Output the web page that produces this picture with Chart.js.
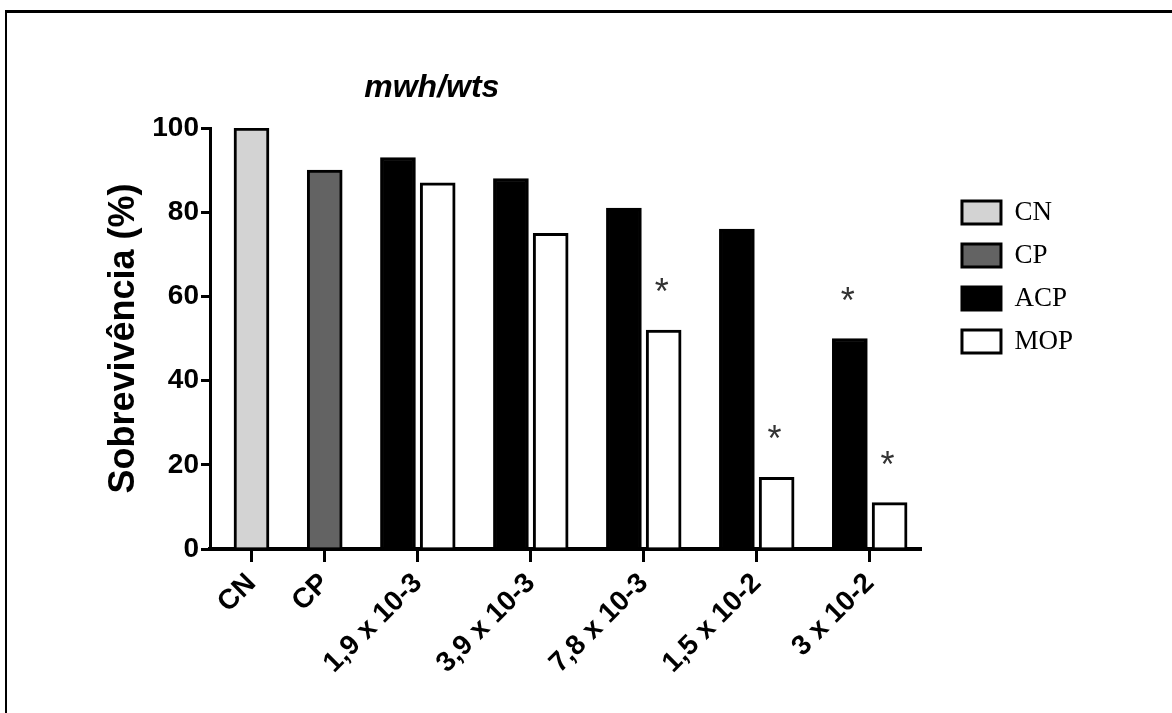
<!DOCTYPE html>
<html lang="pt">
<head>
<meta charset="utf-8">
<title>Sobrevivência – mwh/wts</title>
<script src="https://cdn.jsdelivr.net/npm/chart.js@4.4.1/dist/chart.umd.min.js"></script>
<style>
  html, body { margin: 0; padding: 0; background: #fff; }
  #wrap { position: relative; width: 1172px; height: 713px; overflow: hidden; }
  #wrap canvas { position: absolute; left: 0; top: 0; }
  #frame {
    position: absolute; left: 5px; top: 10px; right: -4px; bottom: -4px;
    border-top: 3px solid #000; border-left: 2px solid #000;
    pointer-events: none;
  }
</style>
</head>
<body>
<div id="wrap">
  <canvas id="chart" width="1172" height="713"></canvas>
  <div id="frame"></div>
</div>
<script>
const chartTitle = 'mwh/wts';
const yTitle = 'Sobrevivência (%)';
const groupLabels = ['CN', 'CP', '1,9 x 10-3', '3,9 x 10-3', '7,8 x 10-3', '1,5 x 10-2', '3 x 10-2'];
const seriesNames = ['CN', 'CP', 'ACP', 'MOP'];
const cnValues  = [100, null, null, null, null, null, null];
const cpValues  = [null, 90, null, null, null, null, null];
const acpValues = [null, null, 93, 88, 81, 76, 50];
const mopValues = [null, null, 87, 75, 52, 17, 11];
// significance marks (*) per group
const cnSig  = [false, false, false, false, false, false, false];
const cpSig  = [false, false, false, false, false, false, false];
const acpSig = [false, false, false, false, false, false, true];
const mopSig = [false, false, false, false, true, true, true];
const yTicks = [0, 20, 40, 60, 80, 100];

Chart.defaults.font.family = '"Liberation Sans", Arial, sans-serif';
Chart.defaults.color = '#000';

const series = [cnValues, cpValues, acpValues, mopValues];
const sigs = [cnSig, cpSig, acpSig, mopSig];
const fills = ['#d3d3d3', '#636363', '#000000', '#ffffff'];

// lay the bars out along a linear axis measured in bar widths:
// bars of one group sit close together, groups are separated by a wider gap
const BAR = 1, INNER_GAP = 0.14, OUTER_GAP = 1.1, LEFT_PAD = 0.69, RIGHT_PAD = 0.4;
const barX = series.map(() => []);
const groupCenters = [];
let cursor = LEFT_PAD;
groupLabels.forEach((_, g) => {
  const present = series.map((s, i) => (s[g] == null ? -1 : i)).filter(i => i >= 0);
  const width = present.length * BAR + (present.length - 1) * INNER_GAP;
  present.forEach((si, k) => { barX[si][g] = cursor + k * (BAR + INNER_GAP) + BAR / 2; });
  groupCenters.push(cursor + width / 2);
  cursor += width + OUTER_GAP;
});
const xMax = cursor - OUTER_GAP + RIGHT_PAD;

const datasets = seriesNames.map((name, i) => ({
  label: name,
  data: series[i]
    .map((v, g) => (v == null ? null : { x: barX[i][g], y: v, sig: sigs[i][g] }))
    .filter(Boolean),
  backgroundColor: fills[i],
  borderColor: '#000',
  borderWidth: 3,
  barThickness: 35,
  grouped: false
}));

// "*" above bars that differ significantly
const asterisks = {
  id: 'asterisks',
  afterDatasetsDraw(chart) {
    const ctx = chart.ctx;
    ctx.save();
    ctx.font = '36px "Liberation Sans"';
    ctx.fillStyle = '#333';
    ctx.textAlign = 'center';
    ctx.textBaseline = 'alphabetic';
    chart.data.datasets.forEach((ds, i) => {
      chart.getDatasetMeta(i).data.forEach((bar, j) => {
        if (ds.data[j].sig) ctx.fillText('*', bar.x - 2, bar.y - 26);
      });
    });
    ctx.restore();
  }
};

// italic plot title, sitting left of the plot centre
const plotTitle = {
  id: 'plotTitle',
  afterDraw(chart) {
    const { ctx, chartArea } = chart;
    ctx.save();
    ctx.font = 'italic bold 32px "Liberation Sans"';
    ctx.fillStyle = '#000';
    ctx.textAlign = 'center';
    ctx.textBaseline = 'alphabetic';
    ctx.fillText(chartTitle, chartArea.left + 0.312 * (chartArea.right - chartArea.left), 97);
    ctx.restore();
  }
};

// move the legend a little away from the plot and down
const legendPlacement = {
  id: 'legendPlacement',
  afterLayout(chart) {
    const lg = chart.legend;
    const dx = chart.chartArea.right + 25 - lg.left;
    const dy = 183 - lg.top;
    lg.left += dx; lg.right += dx;
    lg.top += dy; lg.bottom += dy;
  }
};

new Chart(document.getElementById('chart'), {
  type: 'bar',
  data: { datasets },
  plugins: [asterisks, plotTitle, legendPlacement],
  options: {
    responsive: false,
    animation: false,
    layout: { padding: { left: 0, top: 128, right: 114, bottom: 0 } },
    plugins: {
      title: { display: false },
      tooltip: { enabled: false },
      legend: {
        position: 'right',
        align: 'start',
        maxWidth: 140,
        labels: {
          boxWidth: 39,
          boxHeight: 23,
          padding: 16,
          color: '#000',
          font: { family: '"Liberation Serif", "Times New Roman", serif', size: 27 }
        }
      }
    },
    scales: {
      x: {
        type: 'linear',
        min: 0,
        max: xMax,
        offset: false,
        afterBuildTicks: s => { s.ticks = groupCenters.map(v => ({ value: v })); },
        afterFit: s => { s.height = 713 - 549; },
        ticks: {
          autoSkip: false,
          minRotation: 45,
          maxRotation: 45,
          padding: 5,
          color: '#000',
          font: { size: 28, weight: 'bold' },
          callback: (v, i) => groupLabels[i]
        },
        grid: { offset: false, drawOnChartArea: false, tickLength: 13, color: '#000', lineWidth: 3 },
        border: { display: true, color: '#000', width: 4 }
      },
      y: {
        min: 0,
        max: 100,
        afterBuildTicks: s => { s.ticks = yTicks.map(v => ({ value: v })); },
        afterFit: s => { s.width = 210; },
        ticks: {
          padding: 2,
          color: '#000',
          font: { size: 28, weight: 'bold' }
        },
        grid: { drawOnChartArea: false, tickLength: 9, color: '#000', lineWidth: 3 },
        border: { display: true, color: '#000', width: 3 },
        title: {
          display: true,
          text: yTitle,
          color: '#000',
          font: { size: 36, weight: 'bold' },
          padding: { top: 102, bottom: 0 }
        }
      }
    }
  }
});
</script>
</body>
</html>
